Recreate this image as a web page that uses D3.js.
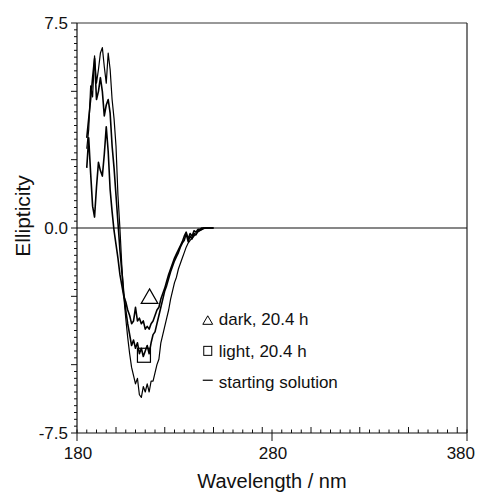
<!DOCTYPE html>
<html>
<head>
<meta charset="utf-8">
<script src="https://cdn.jsdelivr.net/npm/d3@7"></script>
<style>
  body { margin: 0; background: #fff; }
  text { font-family: "Liberation Sans", Arial, sans-serif; fill: #111; }
</style>
</head>
<body>
<div id="chart"></div>
<script>
// wavelengths (nm), 1 nm steps, 185..250
var wavelengths = d3.range(185, 251);

// CD traces
var starting = [2.9, 3.6, 5.2, 4.8, 6.3, 5.3, 5.8, 6.4, 6.6, 5.9,
  5.3, 6.4, 5.8, 4.7, 4.0, 3.0, 1.2, 0.0, -1.4, -2.5,
  -3.3, -4.0, -4.6, -5.1, -5.4, -5.7, -5.5, -6.1, -6.2, -5.8,
  -6.0, -5.7, -6.0, -5.6, -5.6, -5.3, -5.0, -4.8, -4.2, -3.9,
  -3.6, -3.3, -3.0, -2.6, -2.3, -2.0, -1.8, -1.5, -1.3, -1.1,
  -0.9, -0.7, -0.55, -0.45, -0.38, -0.3, -0.22, -0.15, -0.1, -0.06,
  -0.03, 0, 0, 0, 0, 0];
var light = [3.3, 4.0, 4.7, 5.5, 6.2, 4.7, 5.0, 5.5, 5.0, 4.1,
  4.5, 4.7, 4.2, 3.0, 2.2, 1.2, 0.2, -0.8, -1.6, -2.4,
  -3.0, -3.5, -3.9, -4.3, -4.1, -4.4, -4.2, -4.6, -4.4, -4.7,
  -4.5, -4.3, -4.6, -4.2, -3.9, -3.8, -3.5, -3.2, -2.9, -2.6,
  -2.3, -2.1, -1.85, -1.6, -1.4, -1.2, -1.05, -0.9, -0.7, -0.55,
  -0.45, -0.2, -0.5, -0.3, -0.4, -0.2, -0.25, -0.1, -0.08, -0.04,
  0, 0, 0, 0, 0, 0];
var dark = [2.2, 3.3, 2.0, 0.8, 0.4, 1.5, 2.4, 2.1, 1.9, 2.7,
  3.7, 2.8, 1.4, 0.6, -0.1, -0.6, -1.1, -1.7, -2.1, -2.5,
  -2.7, -3.0, -3.2, -3.5, -3.4, -2.9, -3.4, -3.3, -3.5, -3.4,
  -3.7, -3.6, -3.7, -3.5, -3.4, -3.2, -3.0, -2.9, -2.6, -2.4,
  -2.2, -1.95, -1.7, -1.5, -1.3, -1.1, -0.95, -0.8, -0.65, -0.5,
  -0.3, -0.15, -0.4, -0.2, -0.3, -0.1, -0.15, -0.05, -0.05, 0,
  0, 0, 0, 0, 0, 0];

var xTickLabels = [180, 280, 380];
var yTickLabels = [-7.5, 0.0, 7.5];

var margin = {top: 23, right: 11, bottom: 63, left: 77},
    width = 478 - margin.left - margin.right,
    height = 496 - margin.top - margin.bottom;

var svg = d3.select("#chart")
  .append("svg")
    .attr("width", 478)
    .attr("height", 496)
  .append("g")
    .attr("transform", "translate(" + margin.left + "," + margin.top + ")");

var x = d3.scaleLinear().domain([180, 380]).range([0, width]);
var y = d3.scaleLinear().domain([-7.5, 7.5]).range([height, 0]);

// frame
svg.append("line").attr("x1", 0).attr("x2", width).attr("y1", 0).attr("y2", 0)
  .attr("stroke", "#333").attr("stroke-width", 1);
svg.append("line").attr("x1", width).attr("x2", width).attr("y1", 0).attr("y2", height)
  .attr("stroke", "#222").attr("stroke-width", 1.2);

// x axis: minor ticks inward, labelled ticks cross the axis
var xAxis = svg.append("g").attr("transform", "translate(0," + height + ")");
xAxis.append("line").attr("x1", 0).attr("x2", width)
  .attr("stroke", "#111").attr("stroke-width", 1.2);
xAxis.selectAll(".xt")
  .data(d3.range(180, 381, 5))
  .enter().append("line")
    .attr("x1", function(d) { return x(d); })
    .attr("x2", function(d) { return x(d); })
    .attr("y1", function(d) { return xTickLabels.indexOf(d) >= 0 ? 8 : 0; })
    .attr("y2", function(d) { return d % 25 == 0 ? -6 : -3.5; })
    .attr("stroke", "#111").attr("stroke-width", 1);
xAxis.selectAll(".xl")
  .data(xTickLabels)
  .enter().append("text")
    .attr("x", function(d, i) { return i == 2 ? x(d) + 8 : x(d) + 1; })
    .attr("y", 26)
    .attr("text-anchor", function(d, i) { return i == 2 ? "end" : "middle"; })
    .style("font-size", "17px")
    .text(function(d) { return d; });

// y axis: ticks outward
var yAxis = svg.append("g");
yAxis.append("line").attr("y1", 0).attr("y2", height)
  .attr("stroke", "#111").attr("stroke-width", 1.2);
yAxis.selectAll(".yt")
  .data(d3.range(-30, 31))
  .enter().append("line")
    .attr("y1", function(d) { return y(d * 0.25); })
    .attr("y2", function(d) { return y(d * 0.25); })
    .attr("x1", function(d) { return d % 10 == 0 ? -6 : -3; })
    .attr("x2", 0)
    .attr("stroke", "#111").attr("stroke-width", 1);
yAxis.selectAll(".yl")
  .data(yTickLabels)
  .enter().append("text")
    .attr("x", -9)
    .attr("y", function(d) { return y(d); })
    .attr("dy", "0.36em")
    .attr("text-anchor", "end")
    .style("font-size", "17px")
    .text(function(d) { return d.toFixed(1); });

// zero line
svg.append("line")
  .attr("x1", 0).attr("x2", width)
  .attr("y1", y(0)).attr("y2", y(0))
  .attr("stroke", "#111").attr("stroke-width", 1.2);

// traces
var line = d3.line()
  .x(function(d, i) { return x(wavelengths[i]); })
  .y(function(d) { return y(d); });

[starting, light, dark].forEach(function(s, k) {
  svg.append("path")
    .datum(s)
    .attr("fill", "none")
    .attr("stroke", "#000")
    .attr("stroke-width", k == 0 ? 1.2 : 1.6)
    .attr("stroke-linejoin", "round")
    .attr("d", line);
});

// markers on the curves
var tri = d3.symbol().type(d3.symbolTriangle).size(120);
svg.append("path")
  .attr("d", tri)
  .attr("transform", "translate(" + x(217.2) + "," + (y(-2.58)) + ")")
  .attr("fill", "none").attr("stroke", "#000").attr("stroke-width", 1.2);
svg.append("rect")
  .attr("x", x(211)).attr("y", y(-4.4))
  .attr("width", 13).attr("height", 14)
  .attr("fill", "none").attr("stroke", "#000").attr("stroke-width", 1.2);

// legend
var lg = svg.append("g").attr("transform", "translate(" + x(245) + ",0)");
lg.append("path")
  .attr("d", d3.symbol().type(d3.symbolTriangle).size(42))
  .attr("transform", "translate(4," + (y(-3.42)) + ")")
  .attr("fill", "none").attr("stroke", "#000").attr("stroke-width", 1);
lg.append("rect")
  .attr("x", 0).attr("y", y(-4.33)).attr("width", 8).attr("height", 9)
  .attr("fill", "none").attr("stroke", "#000").attr("stroke-width", 1);
lg.append("line")
  .attr("x1", -1).attr("x2", 9).attr("y1", y(-5.57)).attr("y2", y(-5.57))
  .attr("stroke", "#000").attr("stroke-width", 1.2);
var legendText = ["dark, 20.4 h", "light, 20.4 h", "starting solution"];
var legendY = [-3.55, -4.73, -5.84];
lg.selectAll(".lt")
  .data(legendText)
  .enter().append("text")
    .attr("x", 15)
    .attr("y", function(d, i) { return y(legendY[i]); })
    .style("font-size", "17px")
    .text(function(d) { return d; });

// axis titles
svg.append("text")
  .attr("x", width / 2)
  .attr("y", height + 55)
  .attr("text-anchor", "middle")
  .style("font-size", "20px")
  .text("Wavelength / nm");
svg.append("text")
  .attr("transform", "translate(-47," + (y(0) - 12) + ") rotate(-90)")
  .attr("text-anchor", "middle")
  .style("font-size", "21px")
  .text("Ellipticity");
</script>
</body>
</html>
